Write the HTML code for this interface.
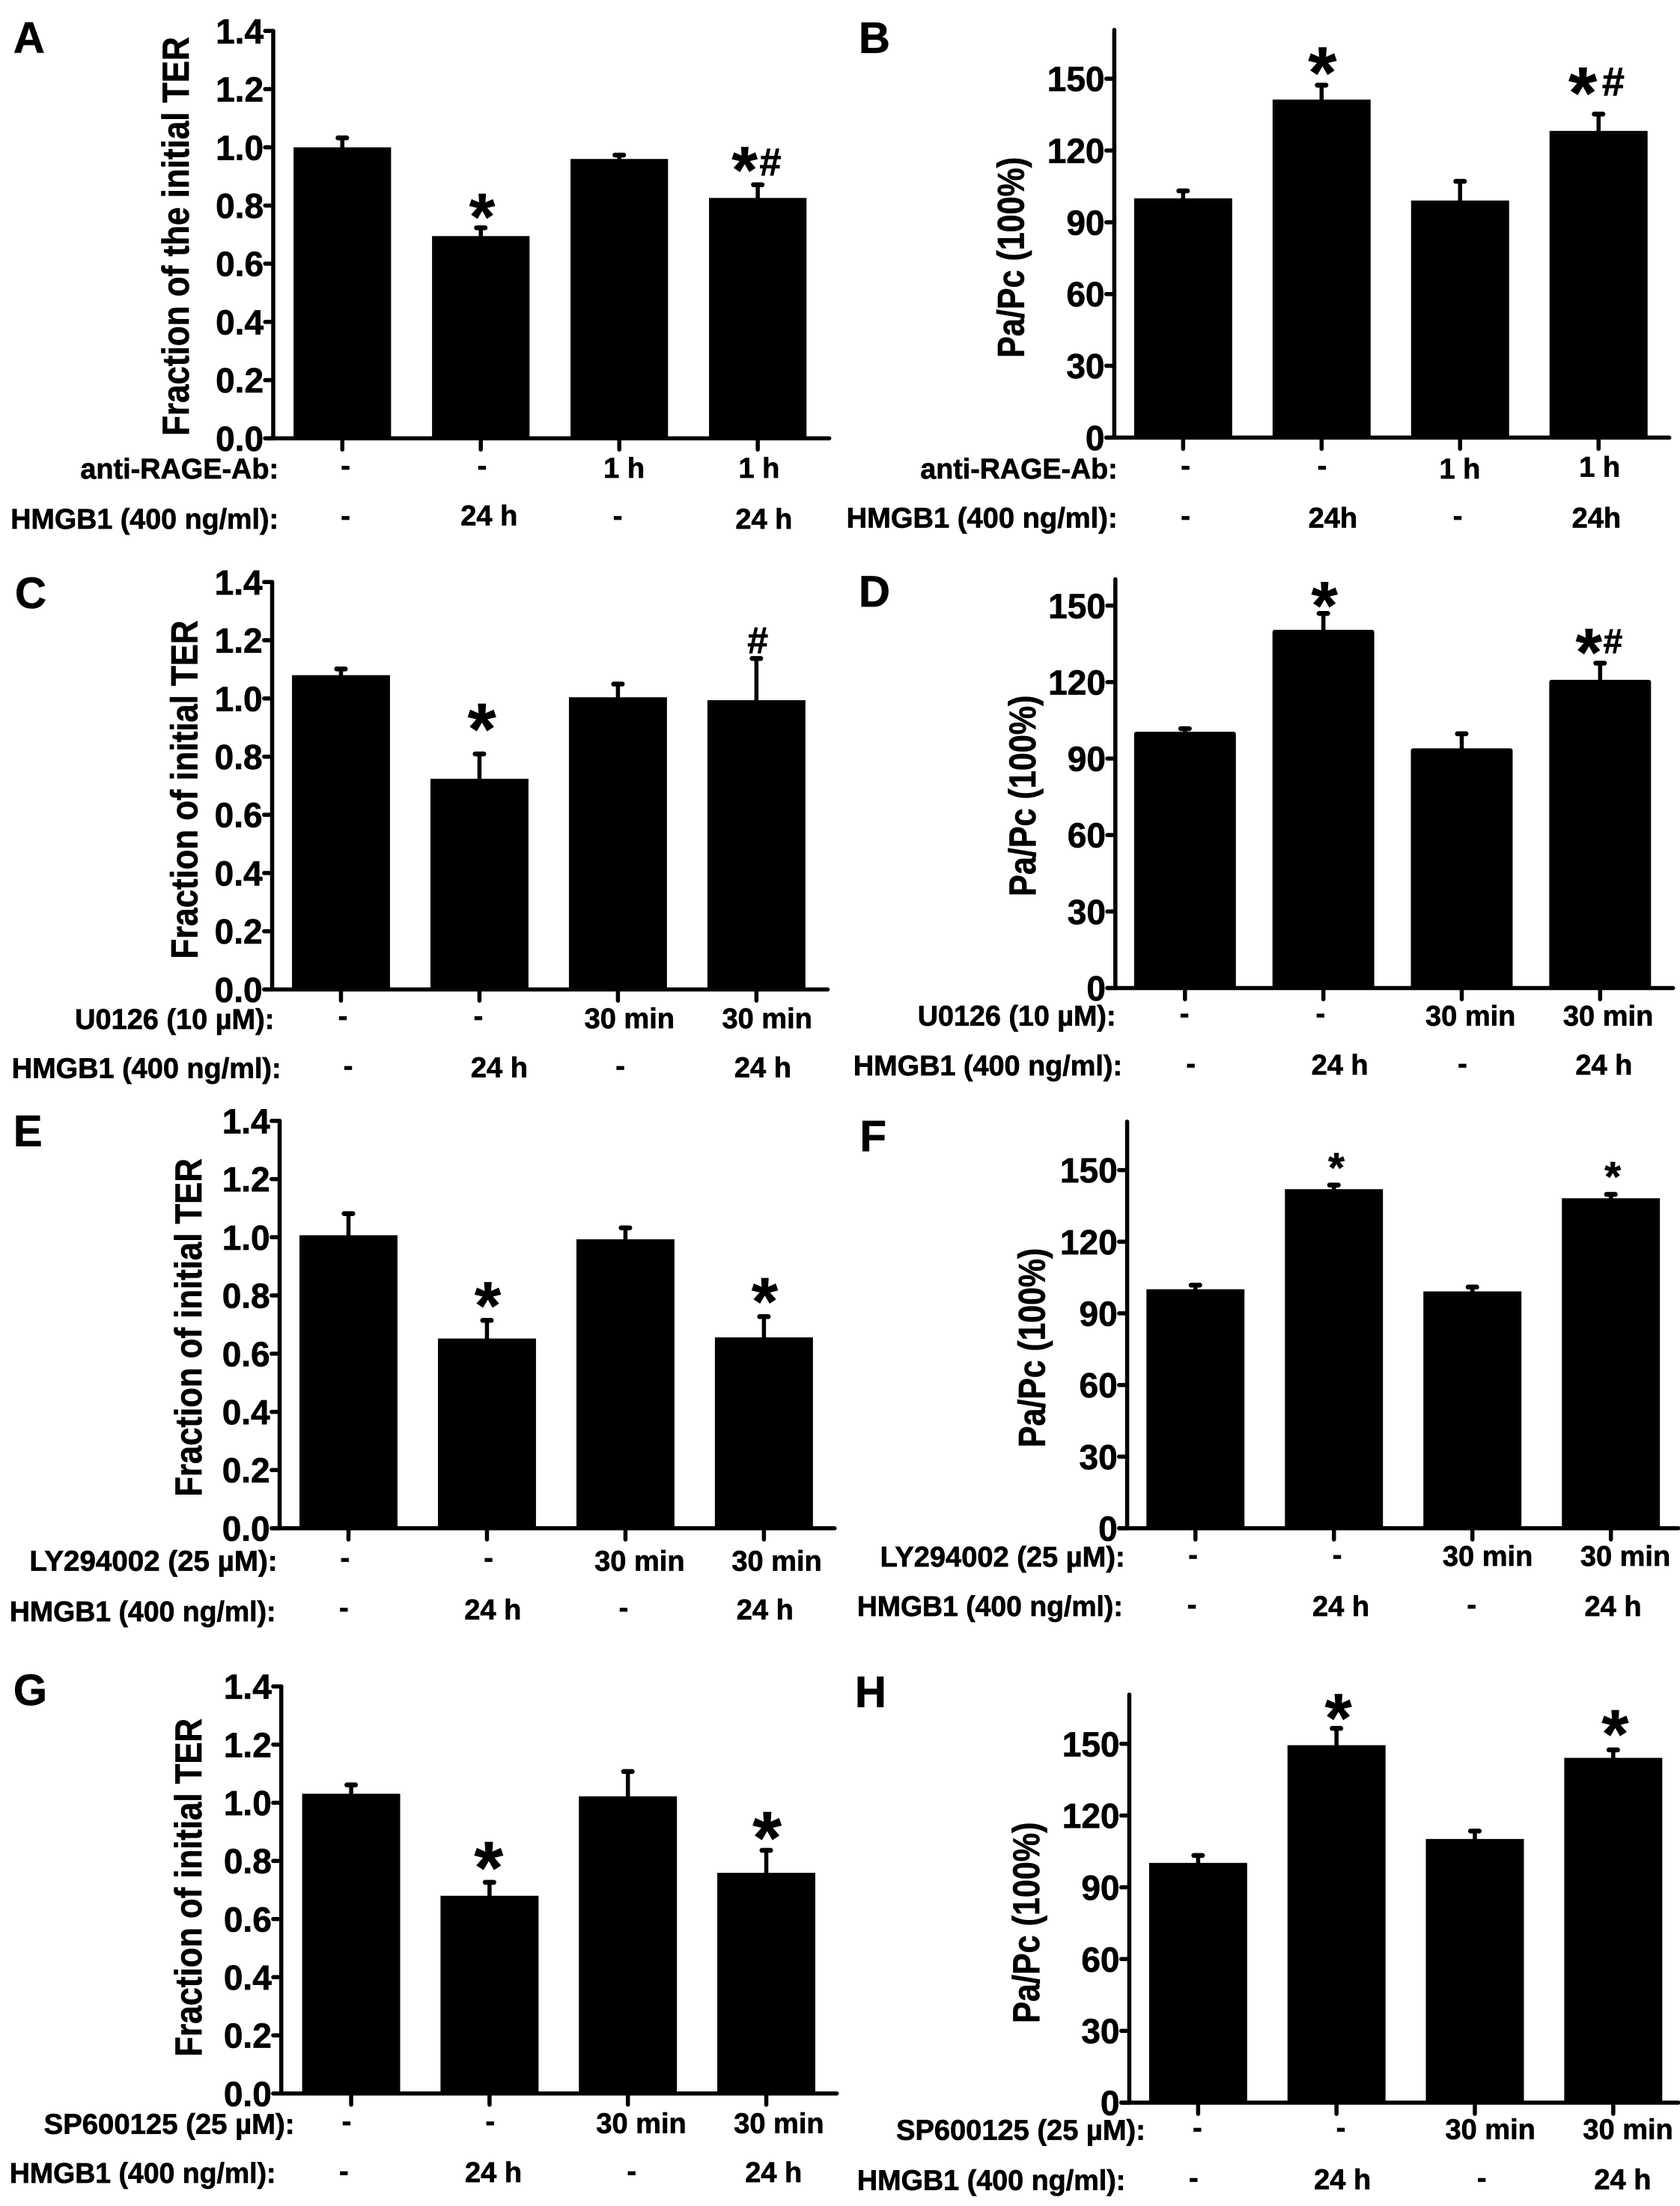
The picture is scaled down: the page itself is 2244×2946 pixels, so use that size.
<!DOCTYPE html>
<html lang="en">
<head>
<meta charset="utf-8">
<title>TER and Pa/Pc bar charts, panels A to H</title>
<style>
html,body{margin:0;padding:0;background:#fff;}
svg{display:block;}
text{font-family:"Liberation Sans",Arial,sans-serif;font-weight:bold;fill:#000;stroke:#000;stroke-width:0.7;}
</style>
</head>
<body>
<svg id="figure" xmlns="http://www.w3.org/2000/svg" width="2244" height="2946" viewBox="0 0 2244 2946">
<rect x="0" y="0" width="2244" height="2946" fill="#ffffff"/>
<g id="panel-a"></g>
<g id="panel-b"></g>
<g id="panel-c"></g>
<g id="panel-d"></g>
<g id="panel-e"></g>
<g id="panel-f"></g>
<g id="panel-g"></g>
<g id="panel-h"></g>
</svg>
<script>
// ---- Axis ticks ----
const terTicks = [0, 0.2, 0.4, 0.6, 0.8, 1.0, 1.2, 1.4];
const terTickLabels = ['0.0', '0.2', '0.4', '0.6', '0.8', '1.0', '1.2', '1.4'];
const paPcTicks = [0, 30, 60, 90, 120, 150];
const paPcTickLabels = ['0', '30', '60', '90', '120', '150'];

// ---- Series values (bar height) and errors (upper error bar length) ----
const valuesA = [1.00, 0.695, 0.96, 0.826];
const errorsA = [0.033, 0.029, 0.014, 0.046];
const valuesB = [100, 141.3, 99.1, 128.2];
const errorsB = [3.2, 6.1, 8.1, 7.1];
const valuesC = [1.08, 0.724, 1.004, 0.994];
const errorsC = [0.022, 0.086, 0.046, 0.144];
const valuesD = [100.5, 140.5, 94, 120.9];
const errorsD = [1.3, 6.5, 5.8, 6.6];
const valuesE = [1.007, 0.652, 0.993, 0.656];
const errorsE = [0.075, 0.063, 0.04, 0.072];
const valuesF = [100.1, 142, 99.2, 138.2];
const errorsF = [1.8, 1.8, 1.9, 1.7];
const valuesG = [1.031, 0.68, 1.022, 0.759];
const errorsG = [0.031, 0.047, 0.086, 0.078];
const valuesH = [100.2, 149.4, 110.2, 144.1];
const errorsH = [3.2, 7.1, 3.4, 3.4];

// ---- Significance markers ----
const sigAB = ['', '*', '', '*#'];
const sigC = ['', '*', '', '#'];
const sigD = ['', '*', '', '*#'];
const sigEFGH = ['', '*', '', '*'];

// ---- Treatment rows ----
const rageTimes = ['-', '-', '1 h', '1 h'];
const inhibitorTimes = ['-', '-', '30 min', '30 min'];
const hmgbTimesSpaced = ['-', '24 h', '-', '24 h'];
const hmgbTimesCompact = ['-', '24h', '-', '24h'];
const hmgbLabel = 'HMGB1 (400 ng/ml):';
const titleTERLong = 'Fraction of the initial TER';
const titleTER = 'Fraction of initial TER';
const titlePaPc = 'Pa/Pc (100%)';

// ---- Layout (measured in a 1568-unit-wide, 1568-unit-tall grid per quadrant cell) ----
const SX = 1122 / 1568.0 * 1.0;
const SY_TOP = 736 / 1568.0;
const panelConfigs = [
  {id:'panel-a',letter:'A',col:0,y0:0,values:valuesA,errors:errorsA,sig:sigAB,ticks:terTicks,tickLabels:terTickLabels,title:titleTERLong,
   rowName1:'anti-RAGE-Ab:',row1:rageTimes,row2:hmgbTimesSpaced,
   L:{letter:[25,150],axisX:510,base:1247,topTick:88,axisTop:88,axisEnd:1548,barLeft:548,barW:182,step:258.5,barR:0,
      titleX:352,titleTop:105,titleBottom:1240,
      label1:[150,520,1332],label2:[20,520,1475],
      c1x:[645,900,1165,1417],c1y:[1332,1332,1330,1330],c2x:[645,913,1153,1426],c2y:[1475,1465,1475,1475],
      star:88,hash:52,sigOffsets:[[],[[2.5,49]],[],[[-24.5,60],[23.5,67]]]}},
  {id:'panel-b',letter:'B',col:1,y0:0,values:valuesB,errors:errorsB,sig:sigAB,ticks:paPcTicks,tickLabels:paPcTickLabels,title:titlePaPc,
   rowName1:'anti-RAGE-Ab:',row1:rageTimes,row2:hmgbTimesCompact,
   L:{letter:[35,150],axisX:512,base:1245,topTick:224,axisTop:85,axisEnd:1548,barLeft:549,barW:183,step:258.5,barR:0,
      titleX:343,titleTop:447,titleBottom:1018,
      label1:[150,518,1332],label2:[12,518,1472],
      c1x:[645,900,1157,1418],c1y:[1332,1332,1332,1327],c2x:[645,920,1153,1412],c2y:[1475,1472,1475,1472],
      star:97,hash:54,sigOffsets:[[],[[1.5,55]],[],[[-29.5,79],[27.5,94]]]}},
  {id:'panel-c',letter:'C',col:0,y0:736,values:valuesC,errors:errorsC,sig:sigC,ticks:terTicks,tickLabels:terTickLabels,title:titleTER,
   rowName1:'U0126 (10 µM):',row1:inhibitorTimes,row2:hmgbTimesSpaced,
   L:{letter:[28,162],axisX:508,base:1247,topTick:88,axisTop:88,axisEnd:1545,barLeft:545,barW:183,step:258.5,barR:0,
      titleX:368,titleTop:197,titleBottom:1160,
      label1:[140,512,1330],label2:[22,525,1470],
      c1x:[640,893,1175,1432],c1y:[1330,1330,1328,1328],c2x:[650,932,1158,1424],c2y:[1472,1468,1472,1468],
      star:97,hash:50,sigOffsets:[[],[[4.5,90]],[],[[2.5,52]]]}},
  {id:'panel-d',letter:'D',col:1,y0:736,values:valuesD,errors:errorsD,sig:sigD,ticks:paPcTicks,tickLabels:paPcTickLabels,title:titlePaPc,
   rowName1:'U0126 (10 µM):',row1:inhibitorTimes,row2:hmgbTimesSpaced,
   L:{letter:[35,158],axisX:514,base:1243,topTick:155,axisTop:80,axisEnd:1555,barLeft:549,barW:190,step:258.3,barR:3,
      titleX:365,titleTop:410,titleBottom:982,
      label1:[145,515,1320],label2:[25,527,1462],
      c1x:[643,897,1177,1434],c1y:[1323,1323,1320,1320],c2x:[655,933,1162,1426],c2y:[1465,1460,1465,1460],
      star:90,hash:46,sigOffsets:[[],[[2,41]],[],[[-21,49],[24,64]]]}},
  {id:'panel-e',letter:'E',col:0,y0:1472,values:valuesE,errors:errorsE,sig:sigEFGH,ticks:terTicks,tickLabels:terTickLabels,title:titleTER,
   rowName1:'LY294002 (25 µM):',row1:inhibitorTimes,row2:hmgbTimesSpaced,
   L:{letter:[25,125],axisX:522,base:1212,topTick:53,axisTop:53,axisEnd:1558,barLeft:559,barW:183,step:258.5,barR:0,
      titleX:376,titleTop:160,titleBottom:1122,
      label1:[55,518,1303],label2:[18,515,1447],
      c1x:[644,912,1194,1450],c1y:[1304,1304,1303,1303],c2x:[642,920,1164,1428],c2y:[1445,1442,1445,1442],
      star:90,hash:42,sigOffsets:[[],[[1.5,60]],[],[[1.5,61]]]}},
  {id:'panel-f',letter:'F',col:1,y0:1472,values:valuesF,errors:errorsF,sig:sigEFGH,ticks:paPcTicks,tickLabels:paPcTickLabels,title:titlePaPc,
   rowName1:'LY294002 (25 µM):',row1:inhibitorTimes,row2:hmgbTimesSpaced,
   L:{letter:[37,140],axisX:536,base:1212,topTick:193,axisTop:55,axisEnd:1565,barLeft:572,barW:183,step:258.5,barR:0,
      titleX:382,titleTop:415,titleBottom:982,
      label1:[75,532,1292],label2:[32,528,1432],
      c1x:[659,928,1209,1466],c1y:[1295,1295,1290,1290],c2x:[657,935,1179,1443],c2y:[1437,1432,1437,1432],
      star:56,hash:42,sigOffsets:[[],[[4.5,61]],[],[[3.5,62]]]}},
  {id:'panel-g',letter:'G',col:0,y0:2209,values:valuesG,errors:errorsG,sig:sigEFGH,ticks:terTicks,tickLabels:terTickLabels,title:titleTER,
   rowName1:'SP600125 (25 µM):',row1:inhibitorTimes,row2:hmgbTimesSpaced,
   L:{letter:[25,145],axisX:525,base:1250,topTick:92,axisTop:92,axisEnd:1562,barLeft:564,barW:183,step:258.3,barR:0,
      titleX:376,titleTop:183,titleBottom:1145,
      label1:[82,550,1335],label2:[18,515,1475],
      c1x:[647,915,1197,1454],c1y:[1337,1337,1333,1333],c2x:[642,921,1179,1444],c2y:[1478,1473,1478,1473],
      star:99,hash:42,sigOffsets:[[],[[-1.5,61]],[],[[1.5,55]]]}},
  {id:'panel-h',letter:'H',col:1,y0:2209,values:valuesH,errors:errorsH,sig:sigEFGH,ticks:paPcTicks,tickLabels:paPcTickLabels,title:titlePaPc,
   rowName1:'SP600125 (25 µM):',row1:inhibitorTimes,row2:hmgbTimesSpaced,
   L:{letter:[28,150],axisX:540,base:1276,topTick:255,axisTop:115,axisEnd:1565,barLeft:577,barW:183,step:258.3,barR:0,
      titleX:372,titleTop:478,titleBottom:1050,
      label1:[105,570,1352],label2:[32,533,1495],
      c1x:[667,935,1214,1471],c1y:[1355,1355,1350,1350],c2x:[660,938,1198,1461],c2y:[1497,1493,1497,1493],
      star:92,hash:42,sigOffsets:[[],[[3.5,48]],[],[[3.5,63]]]}}
];

const NS = 'http://www.w3.org/2000/svg';
const TICK_FONT = 46;
const ROW_FONT = 38;
const TITLE_FONT = 50;
const LETTER_FONT = 58;

function unitsX(u) { return u * SX; }
function unitsY(u) { return u * SY_TOP; }

function make(parent, tag, attrs, content) {
  const node = document.createElementNS(NS, tag);
  for (const key in attrs) { node.setAttribute(key, attrs[key]); }
  if (content !== undefined) { node.textContent = content; }
  parent.appendChild(node);
  return node;
}

function drawPanel(p) {
  const g = document.getElementById(p.id);
  const L = p.L;
  const originX = p.col * 1122;
  const px = function (u) { return originX + unitsX(u); };
  const py = function (u) { return p.y0 + unitsY(u); };
  const maxTick = p.ticks[p.ticks.length - 1];
  const yScale = function (v) {
    return py(L.base) - (v / maxTick) * (unitsY(L.base) - unitsY(L.topTick));
  };
  const barCenter = function (i) {
    return px(L.barLeft + L.barW / 2 + i * L.step);
  };

  let el = make(g, 'text', {x: px(L.letter[0]), y: py(L.letter[1]), 'font-size': LETTER_FONT}, p.letter);
  
  

  // bars and error bars
  p.values.forEach(function (v, i) {
    const cx = barCenter(i);
    const bw = unitsX(L.barW);
    const top = yScale(v);
    const errTop = yScale(v + p.errors[i]);

    const stem = make(g, 'line', {x1: cx, x2: cx, y1: top + 2, y2: errTop, stroke: '#000', 'stroke-width': 5.5});
    
    

    const cap = make(g, 'rect', {x: cx - 9, y: errTop - 3, width: 18, height: 6.5, rx: 3.2, fill: '#000'});
    
    

    const bar = make(g, 'rect', {x: cx - bw / 2, y: top, width: bw, height: py(L.base) - top, rx: L.barR, fill: '#000'});
    
    

    const tick = make(g, 'line', {x1: cx, x2: cx, y1: py(L.base), y2: py(L.base) + 15, stroke: '#000', 'stroke-width': 5.5, 'stroke-linecap': 'round'});
    
    

    // significance markers sit above the error bar
    Array.from(p.sig[i]).forEach(function (ch, k) {
      const off = L.sigOffsets[i][k];
      const size = ch === '*' ? L.star : L.hash;
      const centerY = errTop - unitsY(off[1]);
      const baseY = centerY + (ch === '*' ? 0.44 : 0.36) * size;
      const mark = make(g, 'text', {x: cx + unitsX(off[0]), y: baseY, 'text-anchor': 'middle', 'font-size': size, 'stroke-width': ch === '#' ? 1.6 : 0.7}, ch);
      
      
    });
  });

  // axes
  const yAxis = make(g, 'line', {x1: px(L.axisX), x2: px(L.axisX), y1: py(L.axisTop), y2: py(L.base), stroke: '#000', 'stroke-width': 5.5, 'stroke-linecap': 'round'});
  
  

  const xAxis = make(g, 'line', {x1: px(L.axisX - 15), x2: px(L.axisEnd), y1: py(L.base), y2: py(L.base), stroke: '#000', 'stroke-width': 5.5, 'stroke-linecap': 'round'});
  
  

  p.ticks.forEach(function (t, i) {
    const y = yScale(t);
    const tickMark = make(g, 'line', {x1: px(L.axisX - 15), x2: px(L.axisX), y1: y, y2: y, stroke: '#000', 'stroke-width': 5.5, 'stroke-linecap': 'round'});
    
    

    const tickLabel = make(g, 'text', {x: px(L.axisX - 18), y: y + 0.36 * TICK_FONT, 'text-anchor': 'end', 'font-size': TICK_FONT}, p.tickLabels[i]);
    
    
  });

  // y title
  const titleLen = unitsY(L.titleBottom - L.titleTop);
  const titleMid = py((L.titleBottom + L.titleTop) / 2);
  const titleX = px(L.titleX);
  const title = make(g, 'text', {x: titleX, y: titleMid, transform: 'rotate(-90 ' + titleX + ' ' + titleMid + ')', 'text-anchor': 'middle', 'font-size': TITLE_FONT, textLength: titleLen, lengthAdjust: 'spacingAndGlyphs'}, p.title);
  
  

  // treatment row labels
  const rowLabel1 = make(g, 'text', {x: px(L.label1[0]), y: py(L.label1[2]) + 0.36 * ROW_FONT, 'font-size': ROW_FONT, textLength: unitsX(L.label1[1] - L.label1[0]), lengthAdjust: 'spacingAndGlyphs'}, p.rowName1);
  
  

  const rowLabel2 = make(g, 'text', {x: px(L.label2[0]), y: py(L.label2[2]) + 0.36 * ROW_FONT, 'font-size': ROW_FONT, textLength: unitsX(L.label2[1] - L.label2[0]), lengthAdjust: 'spacingAndGlyphs'}, hmgbLabel);
  
  

  // treatment row cells
  p.row1.forEach(function (txt, i) {
    const dy = (txt === '-' ? 0.24 : 0.36) * ROW_FONT;
    const cell = make(g, 'text', {x: px(L.c1x[i]), y: py(L.c1y[i]) + dy, 'text-anchor': 'middle', 'font-size': ROW_FONT}, txt);
    
    
  });
  p.row2.forEach(function (txt, i) {
    const dy = (txt === '-' ? 0.24 : 0.36) * ROW_FONT;
    const cell = make(g, 'text', {x: px(L.c2x[i]), y: py(L.c2y[i]) + dy, 'text-anchor': 'middle', 'font-size': ROW_FONT}, txt);
    
    
  });
}

panelConfigs.forEach(drawPanel);
</script>
</body>
</html>
